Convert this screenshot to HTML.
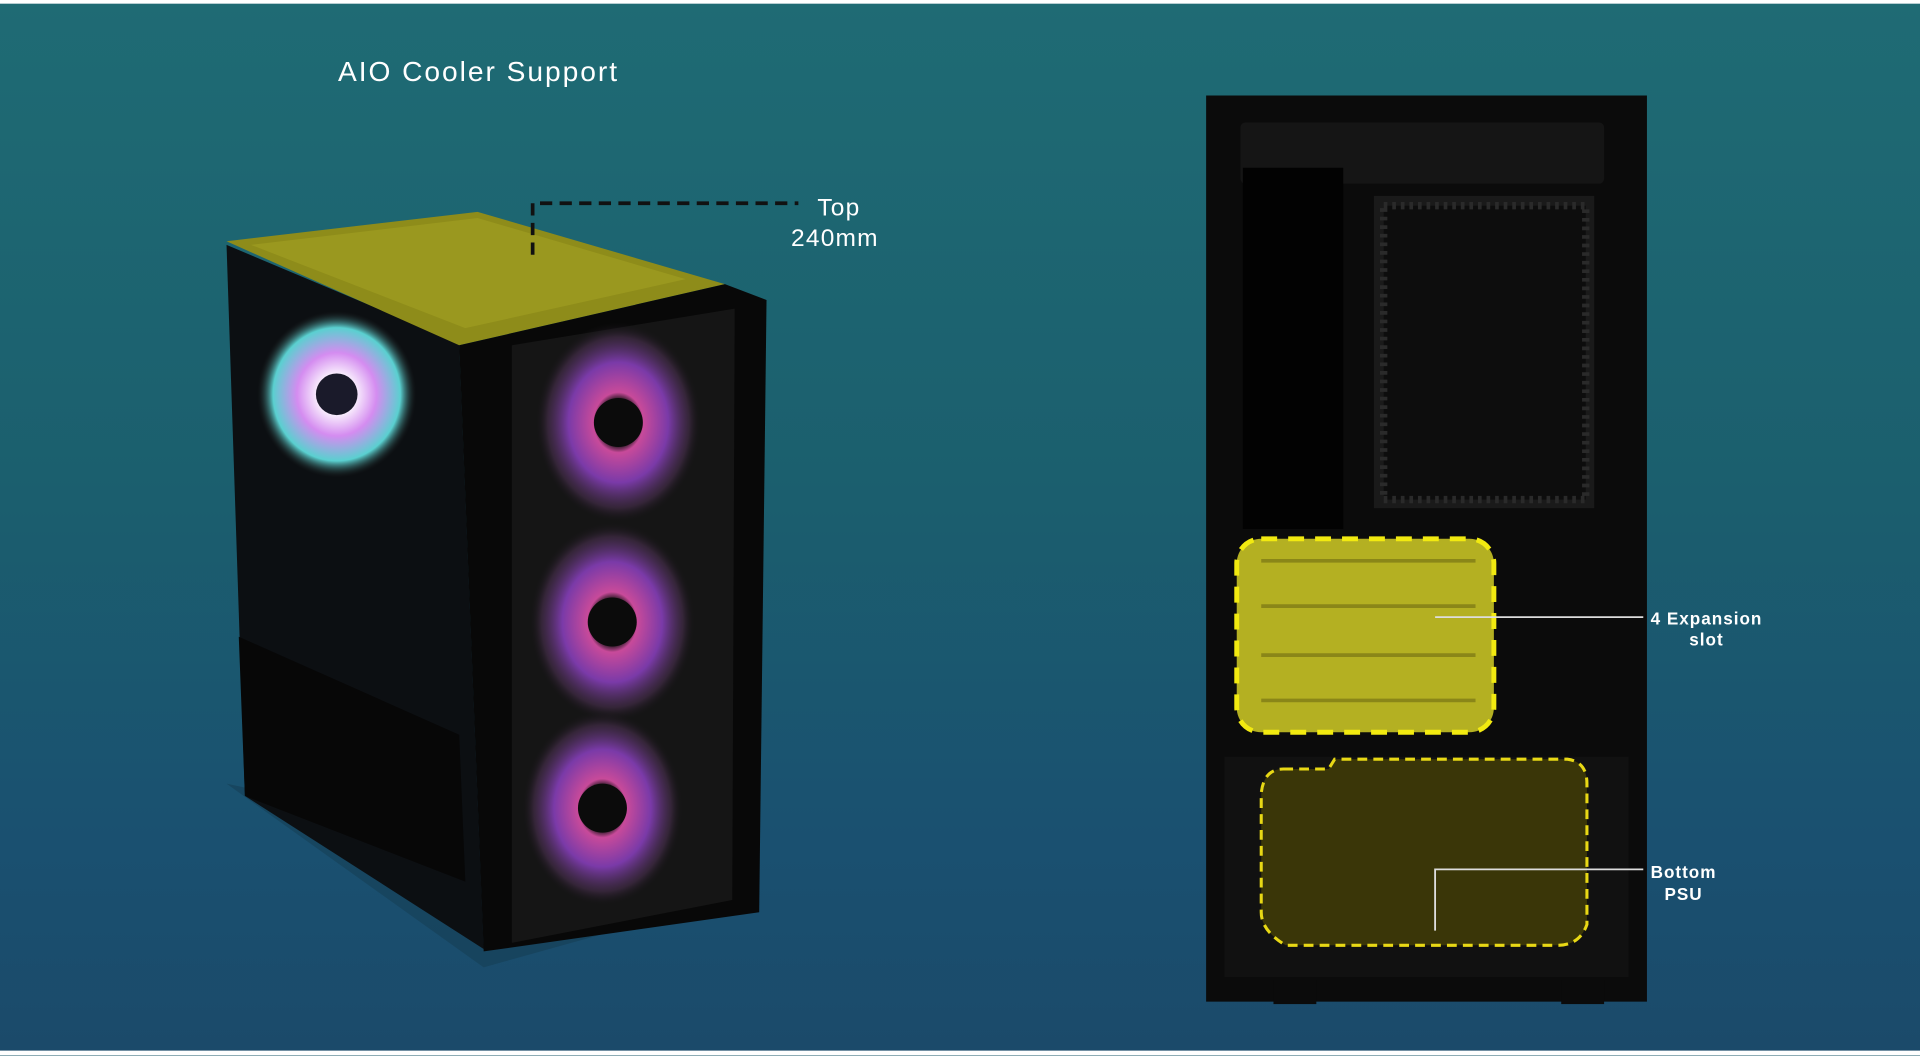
<!DOCTYPE html>
<html><head><meta charset="utf-8"><style>
html,body{margin:0;padding:0;width:1920px;height:1055px;overflow:hidden;background:#1b5a6c}
#s{position:absolute;left:0;top:0;width:1568px;height:862px;transform:scale(1.22449);transform-origin:0 0;
background:linear-gradient(180deg,#1f6b74 0%,#1b5f6e 45%,#1a5070 80%,#1b4a6a 100%);font-family:"Liberation Sans",sans-serif;overflow:hidden}
.t{position:absolute;color:#fff;font-weight:bold}
</style></head><body><div id="s">
<div style="position:absolute;left:0;top:0;width:1568px;height:3px;background:#fff"></div>
<div style="position:absolute;left:0;top:858px;width:1568px;height:4px;background:#fff"></div>
<div class="t" style="left:276px;top:45px;font-size:23px;font-weight:normal;letter-spacing:1.6px">AIO Cooler Support</div>
<div class="t" style="left:646px;top:158px;font-size:20px;line-height:25px;text-align:center;font-weight:normal;letter-spacing:1px">&nbsp;Top<br>240mm</div>
<div class="t" style="left:1348px;top:497px;font-size:14px;line-height:17px;text-align:center;letter-spacing:0.8px">4 Expansion<br>slot</div>
<div class="t" style="left:1348px;top:703px;font-size:14px;line-height:18px;text-align:center;letter-spacing:0.8px">Bottom<br>PSU</div>
<svg width="1568" height="862" style="position:absolute;left:0;top:0">
<defs>
<radialGradient id="f1"><stop offset="0.15" stop-color="#111"/><stop offset="0.2" stop-color="#fff"/><stop offset="0.5" stop-color="#d48cf0"/><stop offset="0.8" stop-color="#5ad0d0"/><stop offset="1" stop-color="#222" stop-opacity="0"/></radialGradient>
<radialGradient id="f2"><stop offset="0.22" stop-color="#111"/><stop offset="0.3" stop-color="#c84a9a"/><stop offset="0.6" stop-color="#7a3aa8"/><stop offset="0.85" stop-color="#4a3050" stop-opacity="0.6"/><stop offset="1" stop-color="#111" stop-opacity="0"/></radialGradient>
</defs>
<polygon points="185,640 395,790 610,730 560,720" fill="#163f55" opacity="0.6"/>
<polygon points="185,200 375,280 395,775 200,650" fill="#0c0f12"/>
<polygon points="195,520 375,600 380,720 200,650" fill="#070707"/>
<polygon points="185,197 390,173 592,232 375,282" fill="#8e8c1a"/>
<polygon points="205,200 390,178 560,228 380,268" fill="#9a981f"/>
<polygon points="375,282 592,232 626,245 620,745 395,777" fill="#080808"/>
<polygon points="418,282 600,252 598,735 418,770" fill="#151515"/>
<ellipse cx="275" cy="322" rx="65" ry="68" fill="url(#f1)"/>
<circle cx="275" cy="322" r="17" fill="#1a1a2a"/>
<ellipse cx="505" cy="345" rx="68" ry="82" fill="url(#f2)"/>
<ellipse cx="500" cy="508" rx="68" ry="82" fill="url(#f2)"/>
<ellipse cx="492" cy="660" rx="66" ry="80" fill="url(#f2)"/>
<circle cx="505" cy="345" r="20" fill="#0b0b0b"/><circle cx="500" cy="508" r="20" fill="#0b0b0b"/><circle cx="492" cy="660" r="20" fill="#0b0b0b"/>
<polyline points="435,208 435,166 652,166" fill="none" stroke="#111" stroke-width="3" stroke-dasharray="10,6"/>
<rect x="985" y="78" width="360" height="740" fill="#0b0b0b"/>
<rect x="1013" y="100" width="297" height="50" rx="4" fill="#151515"/>
<rect x="1015" y="137" width="82" height="295" fill="#020202"/>
<rect x="1122" y="160" width="180" height="255" fill="#1a1a1a"/>
<rect x="1130" y="168" width="165" height="240" fill="#0d0d0d" stroke="#2a2a2a" stroke-dasharray="3,4" stroke-width="6"/>
<rect x="1000" y="618" width="330" height="180" fill="#111"/>
<rect x="1040" y="800" width="35" height="20" fill="#0b0b0b"/><rect x="1275" y="800" width="35" height="20" fill="#0b0b0b"/>
<rect x="1010" y="440" width="210" height="158" rx="20" fill="#b4b022" stroke="#f2ea10" stroke-width="4" stroke-dasharray="13,9"/>
<g stroke="#8a8618" stroke-width="3"><line x1="1030" y1="458" x2="1205" y2="458"/><line x1="1030" y1="495" x2="1205" y2="495"/><line x1="1030" y1="535" x2="1205" y2="535"/><line x1="1030" y1="572" x2="1205" y2="572"/></g>
<path d="M1048,628 L1085,628 L1090,620 L1280,620 Q1296,622 1296,640 L1296,755 Q1290,772 1272,772 L1050,772 Q1030,760 1030,745 L1030,648 Q1032,628 1048,628 Z" fill="#3a3608" stroke="#e8d815" stroke-width="2.5" stroke-dasharray="8,5"/>
<line x1="1172" y1="504" x2="1342" y2="504" stroke="#ddd" stroke-width="1.5"/>
<polyline points="1172,760 1172,710 1342,710" fill="none" stroke="#ddd" stroke-width="1.5"/>
</svg>
</div></body></html>
